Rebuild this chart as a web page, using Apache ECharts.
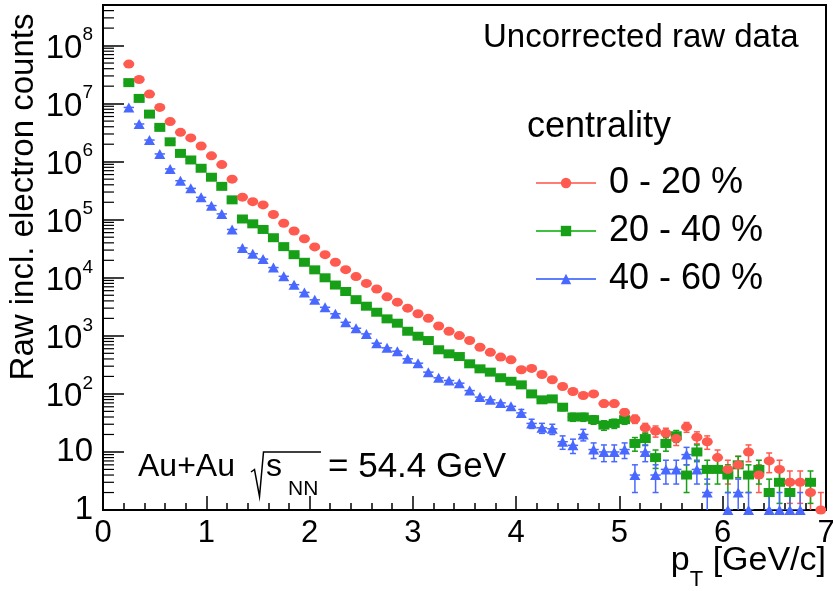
<!DOCTYPE html>
<html><head><meta charset="utf-8">
<script src="https://cdn.jsdelivr.net/npm/echarts@6/dist/echarts.min.js"></script>
<style>html,body{margin:0;padding:0;background:#fff}#c{width:833px;height:591px}</style>
</head><body><div id="c"></div>
<script>
// ---------------- data ----------------
const ptCenters = [0.25,0.35,0.45,0.55,0.65,0.75,0.85,0.95,
  1.05,1.15,1.25,1.35,1.45,1.55,1.65,1.75,1.85,1.95,
  2.05,2.15,2.25,2.35,2.45,2.55,2.65,2.75,2.85,2.95,
  3.05,3.15,3.25,3.35,3.45,3.55,3.65,3.75,3.85,3.95,
  4.05,4.15,4.25,4.35,4.45,4.55,4.65,4.75,4.85,4.95,
  5.05,5.15,5.25,5.35,5.45,5.55,5.65,5.75,5.85,5.95,
  6.05,6.15,6.25,6.35,6.45,6.55,6.65,6.75,6.85,6.95];
const binHalfWidth = 0.05;

const counts0_20 = [4.8e7,2.6e7,1.46e7,8.6e6,4.9e6,3.2e6,2.57e6,1.86e6,
  1.26e6,8.9e5,5.0e5,2.45e5,2.05e5,1.8e5,1.23e5,8.7e4,6.4e4,4.7e4,
  3.4e4,2.5e4,1.85e4,1.38e4,1.05e4,8.0e3,6.4e3,4.7e3,3.8e3,3.0e3,
  2.4e3,2.0e3,1.48e3,1.2e3,1.01e3,830,635,520,430,386,
  260,275,216,175,134,110,94,100,68,68,
  48,37,26,23,21,17,27,18,15,8,
  5,6,10,4,7,5,3,3,2,1];
const counts20_40 = [2.3e7,1.23e7,6.6e6,3.9e6,2.2e6,1.39e6,1.07e6,7.7e5,
  5.4e5,3.76e5,2.2e5,1.03e5,8.5e4,6.8e4,4.9e4,3.44e4,2.5e4,1.85e4,
  1.37e4,1.0e4,7.5e3,5.8e3,4.2e3,3.24e3,2.55e3,1.96e3,1.65e3,1.2e3,
  985,830,575,490,440,330,270,237,190,165,
  143,100,79,82,59,40,40,36,29,31,
  36,14,17,8,14,19,4,10,5,5,
  4,6,4,5,2,3,2,null,3,null];
const counts40_60 = [8.6e6,4.46e6,2.36e6,1.36e6,7.5e5,4.7e5,3.47e5,2.43e5,
  1.75e5,1.26e5,6.8e4,3.27e4,2.6e4,2.1e4,1.5e4,1.06e4,7.6e3,5.6e3,
  4.17e3,3.1e3,2.4e3,1.71e3,1.35e3,1.08e3,746,621,543,402,
  338,237,189,170,153,114,88,79,70,61,
  47,31,26,25,15,13,20,11,10,10,
  11,4,10,4,5,5,9,5,2,null,
  1,2,1,null,1,1,1,1,null,null];

// visible vertical error bars, for bins from pT = 4.05 on
const errFromPt = 4.05;
const err0_20 = [16,17,15,13,12,10,10,10,8,8, 7,6,5,5,4.6,4.1,5.2,4.2,3.9,2.8, 2.2,2.4,3.2,2,2.6,2.2,1.7,1.7,1.4,1];
const err20_40 = [12,10,9,9,7.7,6.3,6.3,6,5.4,5.6, 6,3.7,4.1,2.8,3.7,4.4,2,3.2,2.2,2.2, 2,2.4,2,2.2,1.4,1.7,1.4,0,1.7,0];
const err40_60 = [6.9,5.6,5.1,5,3.9,3.6,4.5,3.3,3.2,3.2, 3.3,2,3.2,2,2.2,2.2,3,2.2,1.4,0, 1,1.4,1,0,1,1,1,1,0,0];

const seriesNames = ['0 - 20 %','20 - 40 %','40 - 60 %'];
const xTickLabels = ['0','1','2','3','4','5','6','7'];
const yDecades = [0,1,2,3,4,5,6,7,8];
const minorMultiples = [2,3,4,5,6,7,8,9];
const yMin = 1, yMax = 5e8;

// ---------------- style ----------------
const FONT = '"Liberation Sans", Arial, Helvetica, sans-serif';
const RED = '#ff5a4f', GREEN = '#17a017', BLUE = '#4868ff';
const RED_L = '#ff7d75', GREEN_L = '#3fc03f', BLUE_L = '#5f7dff';

const chart = echarts.init(document.getElementById('c'), null, {renderer: 'canvas'});

const errStartIdx = ptCenters.findIndex(v => Math.abs(v - errFromPt) < 1e-9);
function buildErr(counts, errs) {
  const out = [];
  counts.forEach((c, i) => {
    if (c == null) return;
    const e = i >= errStartIdx ? errs[i - errStartIdx] : 0;
    out.push([ptCenters[i], c, e]);
  });
  return out;
}
function buildPts(counts) {
  const out = [];
  counts.forEach((c, i) => { if (c != null) out.push([ptCenters[i], c]); });
  return out;
}
function errRender(color) {
  return function (params, api) {
    const x = api.value(0), y = api.value(1), e = api.value(2);
    const c = api.coord([x, y]);
    const l = api.coord([x - binHalfWidth, y]);
    const r = api.coord([x + binHalfWidth, y]);
    const st = {stroke: color, lineWidth: 1.5};
    const ch = [{type: 'line', shape: {x1: l[0], y1: c[1], x2: r[0], y2: c[1]}, style: st}];
    if (e > 0) {
      const hi = api.coord([x, y + e]);
      const lo = api.coord([x, Math.max(y - e, yMin)]);
      ch.push({type: 'line', shape: {x1: c[0], y1: hi[1], x2: c[0], y2: lo[1]}, style: st});
      ch.push({type: 'line', shape: {x1: c[0] - 3, y1: hi[1], x2: c[0] + 3, y2: hi[1]}, style: st});
      if (y - e > yMin) ch.push({type: 'line', shape: {x1: c[0] - 3, y1: lo[1], x2: c[0] + 3, y2: lo[1]}, style: st});
    }
    return {type: 'group', children: ch};
  };
}

const minorData = [];
yDecades.forEach(d => minorMultiples.forEach(m => {
  const v = m * Math.pow(10, d);
  if (v < yMax) minorData.push([0, v]);
}));

const markerDefs = [
  {name: seriesNames[0], counts: counts0_20, errs: err0_20, color: RED, light: RED_L, symbol: 'circle', size: [11, 9]},
  {name: seriesNames[1], counts: counts20_40, errs: err20_40, color: GREEN, light: GREEN_L, symbol: 'rect', size: [11, 9]},
  {name: seriesNames[2], counts: counts40_60, errs: err40_60, color: BLUE, light: BLUE_L, symbol: 'triangle', size: [11, 10]}
];

const series = [];
markerDefs.forEach((d, k) => {
  series.push({
    name: d.name + ' err', type: 'custom', renderItem: errRender(d.color),
    data: buildErr(d.counts, d.errs), encode: {x: 0, y: 1}, clip: true, silent: true, z: 3 + k
  });
});
markerDefs.slice().reverse().forEach((d, k) => {
  series.push({
    name: d.name, type: 'line', data: buildPts(d.counts),
    symbol: d.symbol, symbolSize: d.size, showSymbol: true, showAllSymbol: true,
    lineStyle: {opacity: 0, width: 0}, itemStyle: {color: d.color, opacity: 1},
    clip: false, silent: true, z: 6 + k, emphasis: {disabled: true}
  });
});
series.push({
  name: 'yMinorTicks', type: 'custom', silent: true, z: 2, encode: {x: 0, y: 1},
  data: minorData,
  renderItem: function (params, api) {
    const p = api.coord([api.value(0), api.value(1)]);
    return {type: 'line', shape: {x1: p[0], y1: p[1], x2: p[0] + 11, y2: p[1]}, style: {stroke: '#000', lineWidth: 1.2}};
  }
});

const option = {
  animation: false,
  backgroundColor: '#fff',
  textStyle: {fontFamily: FONT},
  grid: {left: 103, right: 7, top: 5, bottom: 81, outerBoundsMode: 'none', containLabel: false,
    show: true, borderColor: '#000', borderWidth: 2, backgroundColor: 'transparent'},
  xAxis: {
    type: 'value', min: 0, max: 7, interval: 1,
    axisLine: {show: true, onZero: false, lineStyle: {color: '#000', width: 2}},
    axisTick: {show: true, inside: true, length: 14, lineStyle: {color: '#000', width: 1.5}},
    minorTick: {show: true, splitNumber: 5, length: 7, lineStyle: {color: '#000', width: 1.5}},
    splitLine: {show: false},
    axisLabel: {color: '#000', fontSize: 31, fontFamily: FONT, margin: 8, showMinLabel: true, showMaxLabel: true, hideOverlap: false,
      formatter: v => xTickLabels[Math.round(v)]},
    name: '{p|p}{t|T} [GeV/c]', nameLocation: 'end', nameGap: 0, nameMoveOverlap: false,
    nameTextStyle: {color: '#000', fontSize: 34, fontFamily: FONT, align: 'right', verticalAlign: 'top', padding: [34, 0, 0, 0],
      rich: {p: {fontSize: 34, fontFamily: FONT, color: '#000'},
             t: {fontSize: 22, fontFamily: FONT, color: '#000', lineHeight: 22, verticalAlign: 'top', padding: [25, 0, 0, 0]}}}
  },
  yAxis: {
    type: 'log', logBase: 10, min: yMin, max: yMax,
    axisLine: {show: true, onZero: false, lineStyle: {color: '#000', width: 2}},
    axisTick: {show: true, inside: true, length: 21, lineStyle: {color: '#000', width: 1.5}},
    splitLine: {show: false},
    axisLabel: {color: '#000', fontSize: 33, fontFamily: FONT, margin: 10, showMinLabel: true, showMaxLabel: true, hideOverlap: false,
      formatter: function (v) {
        const e = Math.round(Math.log10(v));
        if (Math.abs(v - Math.pow(10, e)) > 1e-6 * v) return '';
        if (e === 0) return '1';
        if (e === 1) return '10';
        return '{b|10}{s|' + e + '}';
      },
      rich: {b: {fontSize: 33, fontFamily: FONT, color: '#000', padding: [7, 0, 0, 0]},
             s: {fontSize: 19, fontFamily: FONT, color: '#000', lineHeight: 27, verticalAlign: 'top'}}},
    name: 'Raw incl. electron counts', nameLocation: 'middle', nameGap: 63, nameRotate: 90, nameMoveOverlap: false,
    nameTextStyle: {color: '#000', fontSize: 33, fontFamily: FONT, padding: [0, 0, 0, 121]}
  },
  legend: {
    orient: 'vertical', left: 530, top: 160, itemWidth: 60, itemHeight: 13, itemGap: 12,
    selectedMode: false,
    textStyle: {fontSize: 36, color: '#000', fontFamily: FONT, padding: [0, 0, 0, 8]},
    lineStyle: {width: 2, opacity: 1},
    data: markerDefs.map(d => ({name: d.name, itemStyle: {color: d.color}, lineStyle: {color: d.light, width: 2, opacity: 1}}))
  },
  graphic: [
    {type: 'text', x: 483, y: 38, silent: true, style: {text: 'Uncorrected raw data', fontSize: 33, fontFamily: FONT, fill: '#000', align: 'left', verticalAlign: 'middle'}},
    {type: 'text', x: 527, y: 127, silent: true, style: {text: 'centrality', fontSize: 36, fontFamily: FONT, fill: '#000', align: 'left', verticalAlign: 'middle'}},
    {type: 'text', x: 138, y: 467, silent: true, style: {text: 'Au+Au', fontSize: 32, fontFamily: FONT, fill: '#000', align: 'left', verticalAlign: 'middle'}},
    {type: 'polyline', silent: true, shape: {points: [[251, 472], [254.5, 469.5], [259.5, 496.5], [263.5, 452], [321, 452]]}, style: {stroke: '#000', lineWidth: 1.5, fill: null}},
    {type: 'text', x: 266, y: 467, silent: true, style: {text: 's', fontSize: 32, fontFamily: FONT, fill: '#000', align: 'left', verticalAlign: 'middle'}},
    {type: 'text', x: 288, y: 489, silent: true, style: {text: 'NN', fontSize: 21, fontFamily: FONT, fill: '#000', align: 'left', verticalAlign: 'middle'}},
    {type: 'text', x: 328, y: 467, silent: true, style: {text: '= 54.4 GeV', fontSize: 35, fontFamily: FONT, fill: '#000', align: 'left', verticalAlign: 'middle'}}
  ],
  series: series
};
chart.setOption(option);
</script>
</body></html>
